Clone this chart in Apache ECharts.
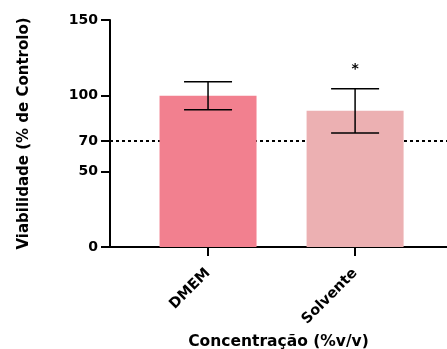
<!DOCTYPE html>
<html>
<head>
<meta charset="utf-8">
<script src="https://cdn.jsdelivr.net/npm/echarts@6/dist/echarts.min.js"></script>
<style>
  html, body { margin: 0; padding: 0; background: #fff; }
  #chart { width: 447px; height: 349px; }
</style>
</head>
<body>
<div id="chart"></div>
<script>
// dados
var categories = ['DMEM', 'Solvente'];
var means = [100, 90];
var errLow = [90.7, 75.4];
var errHigh = [109.2, 104.6];
var marks = ['', '*'];
var yTicks = [0, 50, 70, 100, 150];
var yMax = 150;
var threshold = 70;
var barColors = ['#F2808F', '#ECB0B2'];

// layout: fine slots on the x axis (boundaryGap false), bars sit on slots 16 and 40
var slotCount = 56;
var barSlots = [16, 40];

var slots = [];
var barData = [];
for (var s = 0; s < slotCount; s++) {
  slots.push('');
  barData.push(null);
}
barSlots.forEach(function (slot, i) {
  slots[slot] = categories[i];
  barData[slot] = { value: means[i], itemStyle: { color: barColors[i] } };
});

var yLevels = [];
for (var v = 0; v <= yMax; v++) yLevels.push(String(v));
function isYTick(idx) { return yTicks.indexOf(idx) >= 0; }
function isXTick(idx) { return barSlots.indexOf(idx) >= 0; }

var myChart = echarts.init(document.getElementById('chart'));
var font = 'DejaVu Sans, sans-serif';

var option = {
  animation: false,
  grid: {
    left: 110,
    right: 0,
    top: 20,
    bottom: 102,
    containLabel: false,
    outerBoundsMode: 'none'
  },
  xAxis: {
    type: 'category',
    boundaryGap: false,
    data: slots,
    name: 'Concentração (%v/v)',
    nameLocation: 'middle',
    nameGap: 87,
    nameTextStyle: { color: '#000', fontSize: 15.5, fontWeight: 'bold', fontFamily: font },
    axisLine: { lineStyle: { color: '#000', width: 2 } },
    axisTick: {
      interval: isXTick,
      length: 9,
      lineStyle: { color: '#000', width: 2 }
    },
    axisLabel: {
      interval: isXTick,
      rotate: 45,
      margin: 24,
      color: '#000',
      fontSize: 14.5,
      fontWeight: 'bold',
      fontFamily: font
    }
  },
  yAxis: [
    {
      type: 'value',
      min: 0,
      max: yMax,
      splitLine: { show: false },
      axisLine: { show: false },
      axisTick: { show: false },
      axisLabel: { show: false }
    },
    {
      type: 'category',
      position: 'left',
      boundaryGap: false,
      data: yLevels,
      name: 'Viabilidade (% de Controlo)',
      nameLocation: 'middle',
      nameGap: 78,
      nameTextStyle: { color: '#000', fontSize: 15, fontWeight: 'bold', fontFamily: font },
      splitLine: { show: false },
      axisLine: { show: true, lineStyle: { color: '#000', width: 2 } },
      axisTick: {
        show: true,
        interval: isYTick,
        length: 9,
        lineStyle: { color: '#000', width: 2 }
      },
      axisLabel: {
        interval: isYTick,
        margin: 12,
        color: '#000',
        fontSize: 14,
        fontWeight: 'bold',
        fontFamily: font
      }
    }
  ],
  series: [
    {
      type: 'bar',
      yAxisIndex: 0,
      barWidth: 97,
      z: 3,
      data: barData,
      markLine: {
        silent: true,
        symbol: 'none',
        z: 1,
        label: { show: false },
        lineStyle: { color: '#000', type: [3, 3], width: 2 },
        data: [{ yAxis: threshold }]
      }
    },
    {
      type: 'custom',
      yAxisIndex: 0,
      z: 4,
      data: barSlots.map(function (slot, i) {
        return [slot, errLow[i], errHigh[i], i];
      }),
      renderItem: function (params, api) {
        var x = api.value(0);
        var lo = api.coord([x, api.value(1)]);
        var hi = api.coord([x, api.value(2)]);
        var half = 24;
        var style = { stroke: '#000', lineWidth: 1.5 };
        return {
          type: 'group',
          children: [
            { type: 'line', shape: { x1: hi[0], y1: hi[1], x2: lo[0], y2: lo[1] }, style: style },
            { type: 'line', shape: { x1: hi[0] - half, y1: hi[1], x2: hi[0] + half, y2: hi[1] }, style: style },
            { type: 'line', shape: { x1: lo[0] - half, y1: lo[1], x2: lo[0] + half, y2: lo[1] }, style: style },
            {
              type: 'text',
              style: {
                x: hi[0], y: hi[1] - 12,
                text: marks[api.value(3)],
                align: 'center', verticalAlign: 'bottom',
                fill: '#000', fontSize: 14, fontWeight: 'bold', fontFamily: font
              }
            }
          ]
        };
      }
    }
  ]
};

myChart.setOption(option);
window.addEventListener('resize', function () {
  myChart.resize();
});
</script>
</body>
</html>
